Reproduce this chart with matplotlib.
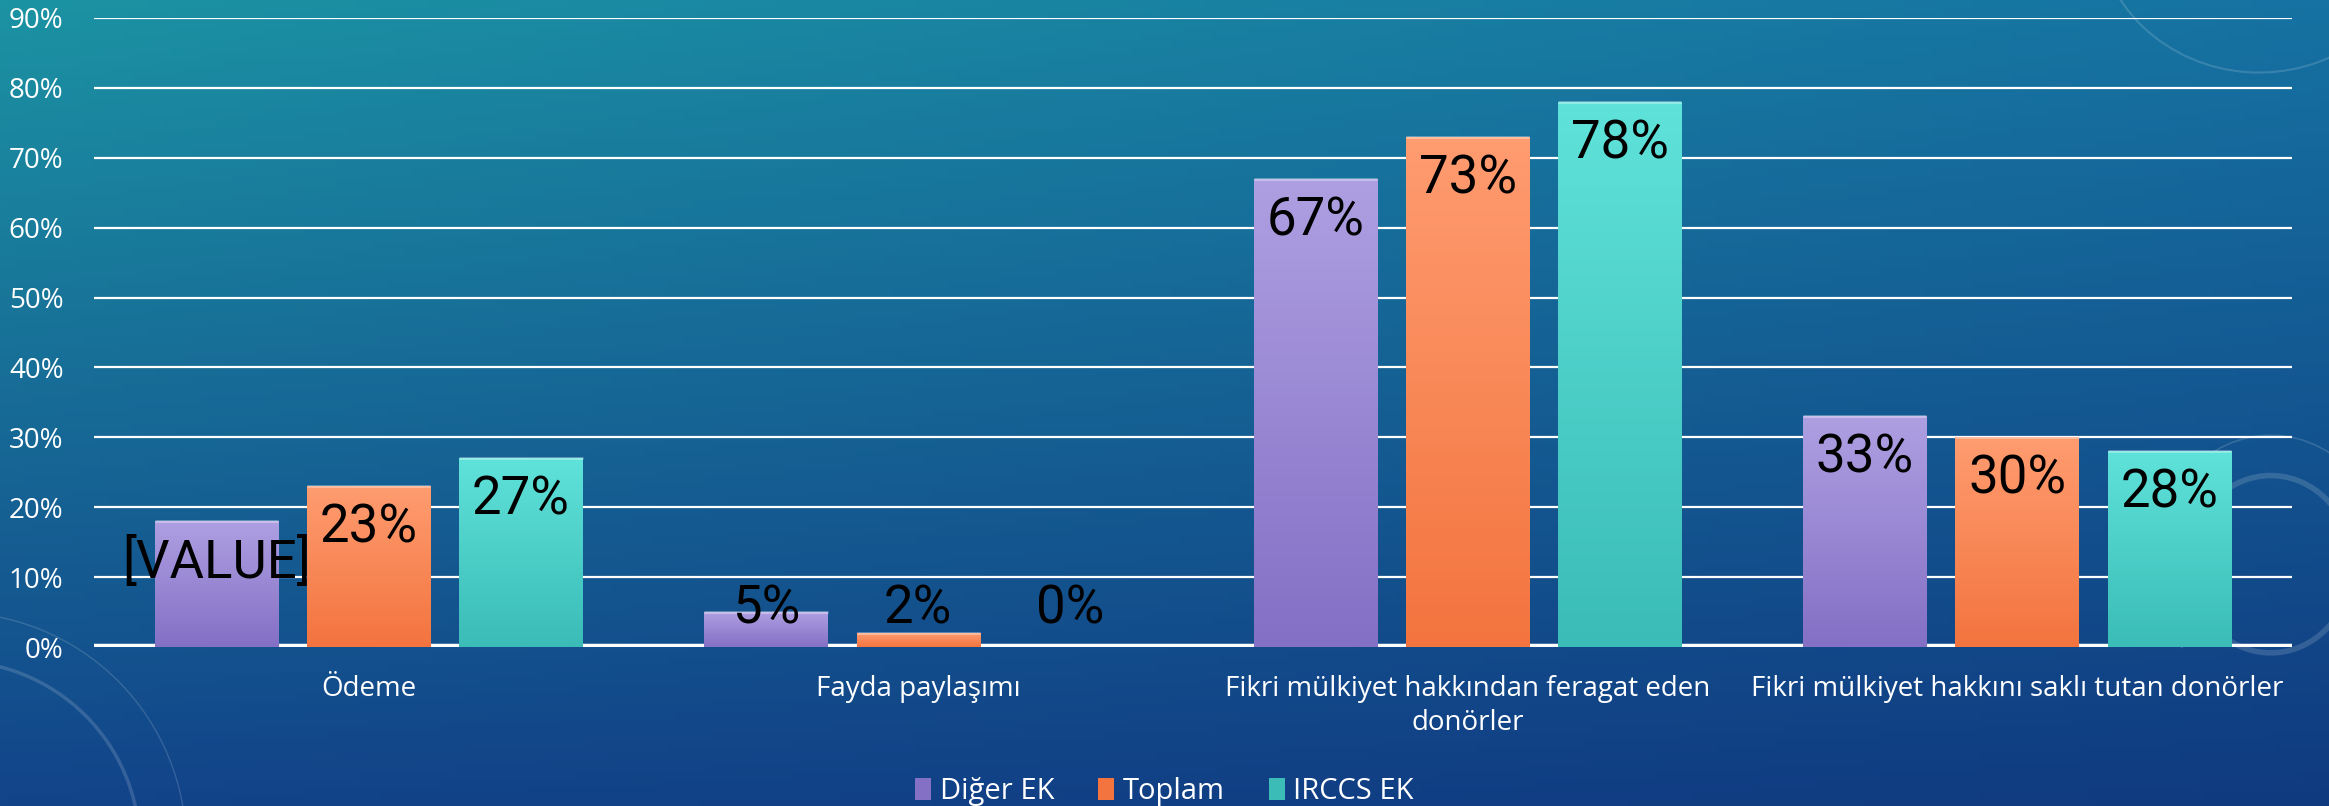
import numpy as np
import matplotlib.pyplot as plt
from matplotlib.colors import to_rgb
from matplotlib.patches import Arc, Patch
from matplotlib.font_manager import fontManager

categories = [
    "Ödeme",
    "Fayda paylaşımı",
    "Fikri mülkiyet hakkından feragat eden\ndonörler",
    "Fikri mülkiyet hakkını saklı tutan donörler",
]
series = ["Diğer EK", "Toplam", "IRCCS EK"]

diger = [18, 5, 67, 33]
toplam = [23, 2, 73, 30]
irccs = [27, 0, 78, 28]

diger_labels = ["[VALUE]", "5%", "67%", "33%"]
toplam_labels = ["23%", "2%", "73%", "30%"]
irccs_labels = ["27%", "0%", "78%", "28%"]

yticks = [0, 10, 20, 30, 40, 50, 60, 70, 80, 90]

installed = {f.name for f in fontManager.ttflist}
text_font = [f for f in ["Open Sans", "Noto Sans", "DejaVu Sans"] if f in installed]
label_font = [f for f in ["Liberation Sans Narrow", "Roboto", "DejaVu Sans"] if f in installed]
plt.rcParams["font.family"] = text_font

# gradient colours (top, bottom)
bar_colors = [("#ae9fe2", "#8470c5"), ("#ff9c70", "#f3743f"), ("#5fe2da", "#3bbcb7")]

fig = plt.figure(figsize=(23.29, 8.06), dpi=100)

# background
bg = fig.add_axes([0, 0, 1, 1], zorder=-10)
tl, tr = np.array(to_rgb("#1c93a3")), np.array(to_rgb("#1672a2"))
bl, br = np.array(to_rgb("#12448a")), np.array(to_rgb("#103a80"))
u = np.linspace(0, 1, 300)[None, :, None]
v = np.linspace(0, 1, 120)[:, None, None]
img = (1 - v) * ((1 - u) * tl + u * tr) + v * ((1 - u) * bl + u * br)
bg.imshow(img, aspect="auto", extent=[0, 1, 0, 1], origin="upper")
for cx, cy, w, h, t1, t2, lw in [
    (-0.02, -0.05, 0.16, 0.46, 0, 90, 2.5),
    (-0.02, -0.05, 0.20, 0.58, 0, 90, 1.0),
    (0.975, 0.30, 0.07, 0.22, 60, 300, 4),
    (0.975, 0.30, 0.10, 0.32, 60, 250, 1.2),
    (0.97, 1.10, 0.14, 0.38, 190, 330, 1.5),
]:
    bg.add_patch(Arc((cx, cy), w, h, theta1=t1, theta2=t2, color="white",
                     alpha=0.15, lw=lw, transform=bg.transAxes))
bg.set_xlim(0, 1)
bg.set_ylim(0, 1)
bg.axis("off")

ax = fig.add_axes([0.0404, 0.197, 0.9436, 0.781])
ax.patch.set_alpha(0)

x = np.arange(len(categories))
width = 0.224
step = 0.277
values = [diger, toplam, irccs]
labels = [diger_labels, toplam_labels, irccs_labels]

for i, (vals, labs, (ctop, cbot)) in enumerate(zip(values, labels, bar_colors)):
    bars = ax.bar(x + (i - 1) * step, vals, width, color=cbot, zorder=3,
                  edgecolor="none")
    grad = np.linspace(0, 1, 100)[:, None, None]
    cimg = (1 - grad) * np.array(to_rgb(ctop)) + grad * np.array(to_rgb(cbot))
    for b, lab in zip(bars, labs):
        x0, w, h = b.get_x(), b.get_width(), b.get_height()
        if h > 0:
            im = ax.imshow(cimg, aspect="auto", extent=[x0, x0 + w, 0, h],
                           origin="upper", zorder=4)
            im.set_clip_path(b)
            ax.plot([x0, x0 + w], [h, h], color="white", alpha=0.35, lw=2,
                    zorder=5, solid_capstyle="butt")
        ax.text(x0 + w / 2, max(h - 6, 5.5), lab, ha="center", va="center",
                fontsize=38, color="black", family=label_font, zorder=6)

ax.set_xlim(-0.5, len(categories) - 0.5)
ax.set_ylim(0, 90)
ax.set_yticks(yticks)
ax.set_yticklabels([f"{t}%" for t in yticks])
ax.set_xticks(x)
ax.set_xticklabels(categories, linespacing=1.3)
ax.tick_params(axis="y", length=0, pad=22, labelsize=20, labelcolor="white")
ax.tick_params(axis="x", length=0, pad=20, labelsize=20, labelcolor="white")
ax.grid(axis="y", color="white", lw=1.6, zorder=1)
ax.set_axisbelow(True)
ax.axhline(0, color="#0a2050", lw=3, zorder=2, alpha=0.8)
ax.axhline(0.25, color="white", lw=2.5, zorder=2)
for s in ax.spines.values():
    s.set_visible(False)

handles = [Patch(facecolor=c[1], edgecolor="none") for c in bar_colors]
fig.legend(handles, series, loc="center", bbox_to_anchor=(0.5, 0.018), ncol=3,
           frameon=False, fontsize=21, labelcolor="white", handlelength=0.55,
           handleheight=0.8, handletextpad=0.3, columnspacing=1.5)

fig.savefig("out.png", dpi=100)
